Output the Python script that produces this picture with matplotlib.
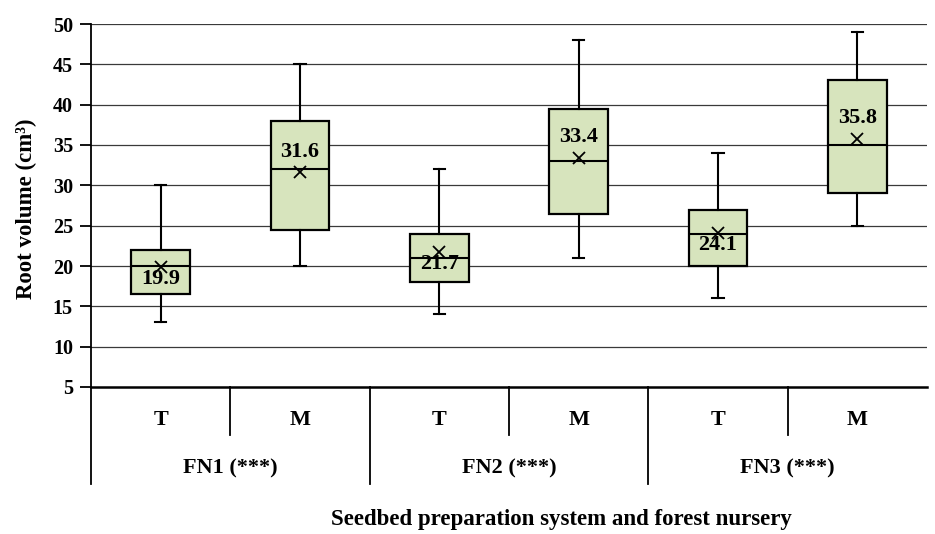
import matplotlib
matplotlib.use("Agg")
import matplotlib.pyplot as plt
from matplotlib.transforms import blended_transform_factory

plt.rcParams['font.family'] = ['Liberation Serif', 'DejaVu Serif']
plt.rcParams['font.weight'] = 'bold'

# Data
groups = ["FN1 (***)", "FN2 (***)", "FN3 (***)"]
systems = ["T", "M", "T", "M", "T", "M"]
whislo = [13, 20, 14, 21, 16, 25]
q1 = [16.5, 24.5, 18, 26.5, 20, 29]
med = [20, 32, 21, 33, 24, 35]
q3 = [22, 38, 24, 39.5, 27, 43]
whishi = [30, 45, 32, 48, 34, 49]
means = [19.9, 31.6, 21.7, 33.4, 24.1, 35.8]
yticks = [5, 10, 15, 20, 25, 30, 35, 40, 45, 50]

W, H = 935, 534
fig = plt.figure(figsize=(W / 100, H / 100), dpi=100)
left, right, top, bottom = 91, 927, 24, 387
ax = fig.add_axes([left / W, 1 - bottom / H, (right - left) / W, (bottom - top) / H])

stats = []
for i in range(len(systems)):
    stats.append(dict(whislo=whislo[i], q1=q1[i], med=med[i], q3=q3[i],
                      whishi=whishi[i], mean=means[i], fliers=[]))

ax.set_ylim(5, 50)
ax.set_xlim(-0.5, len(systems) - 0.5)
for y in yticks[1:]:
    ax.axhline(y, color='#3a3a3a', lw=0.9, zorder=0)

ax.bxp(stats, positions=range(len(systems)), widths=0.42, showmeans=True,
       patch_artist=True, capwidths=0.08,
       boxprops=dict(facecolor='#D7E4BD', edgecolor='black', lw=1.6),
       medianprops=dict(color='black', lw=1.5),
       whiskerprops=dict(color='black', lw=1.5),
       capprops=dict(color='black', lw=1.5),
       meanprops=dict(marker='x', markeredgecolor='black', markersize=9, markeredgewidth=1.3),
       zorder=3)

# mean labels
for i, m in enumerate(means):
    if systems[i] == "T":
        ax.text(i, m - 0.25, f"{m:.1f}", ha='center', va='top', fontsize=16, fontweight='bold', zorder=5)
    else:
        ax.text(i, m + 1.3, f"{m:.1f}", ha='center', va='bottom', fontsize=16, fontweight='bold', zorder=5)

ax.set_yticks(yticks)
ax.set_yticklabels([str(t) for t in yticks], fontsize=14.5, fontweight='bold')
ax.set_xticks([])
ax.tick_params(axis='y', length=8, width=1.3, direction='out', pad=5)
for s in ['top', 'right']:
    ax.spines[s].set_visible(False)
ax.spines['left'].set_linewidth(1.3)
ax.spines['bottom'].set_linewidth(1.8)

# category axis below
trans = blended_transform_factory(ax.transData, fig.transFigure)
def fy(p):
    return 1 - p / H

ax.plot([-0.5, -0.5], [fy(bottom), fy(484)], color='black', lw=1.3, transform=trans, clip_on=False)
for i, lab in enumerate(systems):
    ax.text(i, fy(420), lab, ha='center', va='center', fontsize=16, fontweight='bold', transform=trans)
    if i % 2 == 0:
        ax.plot([i + 0.5, i + 0.5], [fy(bottom), fy(435)], color='black', lw=1.3, transform=trans, clip_on=False)
for g, lab in enumerate(groups):
    ax.text(2 * g + 0.5, fy(468), lab, ha='center', va='center', fontsize=16, fontweight='bold', transform=trans)
    if g < len(groups) - 1:
        ax.plot([2 * g + 1.5, 2 * g + 1.5], [fy(bottom), fy(484)], color='black', lw=1.3, transform=trans, clip_on=False)

fig.text(561 / W, fy(520), "Seedbed preparation system and forest nursery", ha='center', va='center',
         fontsize=16.5, fontweight='bold')
fig.text(26 / W, fy(209), "Root volume (cm³)", ha='center', va='center', rotation=90,
         fontsize=16.5, fontweight='bold')

fig.savefig("out.png", dpi=100)
